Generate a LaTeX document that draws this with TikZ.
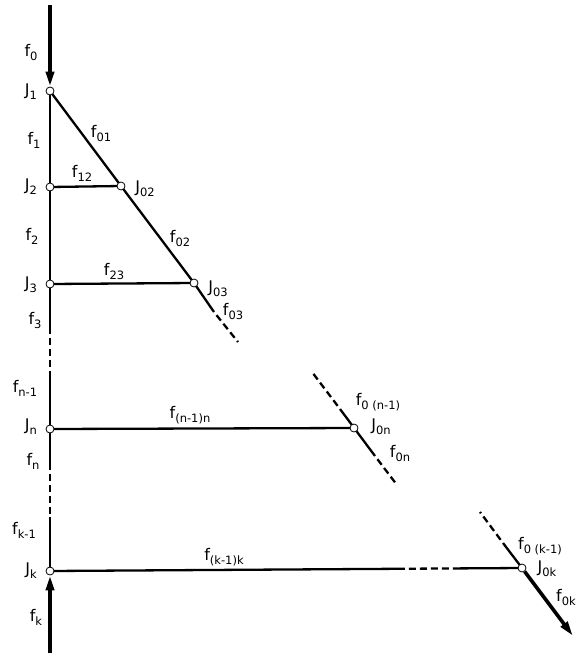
\documentclass[tikz,border=0pt]{standalone}
\usepackage{fontspec}
\setmainfont{DejaVu Sans}
\usetikzlibrary{arrows.meta,calc}
\pgfdeclarelayer{bg}
\pgfsetlayers{bg,main}
\newcommand{\lbl}[2]{#1\raisebox{-4pt}{\fontsize{11.5}{11.5}\selectfont #2}}
\begin{document}
\begin{tikzpicture}[x=1pt,y=-1pt,
  edge/.style={line width=2.3pt},
  dashedge/.style={line width=2.3pt,dash pattern=on 7pt off 4pt,dash phase=7pt},
  junction/.style={circle,draw,fill=white,line width=0.8pt,inner sep=0pt,minimum size=8pt},
  lab/.style={inner sep=0pt,font=\fontsize{16}{16}\selectfont},
  flow/.style={line width=3.6pt,-{Triangle[length=15pt,width=8pt]}}]
\useasboundingbox (0,0) rectangle (579,653);
% junctions
\node[junction] (J1) at (50,91) {};
\node[junction] (J2) at (50,187) {};
\node[junction] (J3) at (50,284) {};
\node[junction] (Jn) at (50,429) {};
\node[junction] (Jk) at (50,571) {};
\node[junction] (J02) at (121,186) {};
\node[junction] (J03) at (194,283) {};
\node[junction] (Jon) at (354,428) {};
\node[junction] (Jok) at (522,568) {};
% free ends and dash breaks
\coordinate (top) at (50,5);
\coordinate (bot) at (50,653);
\coordinate (v1) at (50,334);
\coordinate (v2) at (50,378);
\coordinate (v3) at (50,470);
\coordinate (v4) at (50,517);
\coordinate (d1) at (214,312);
\coordinate (d2) at (238,342);
\coordinate (n1) at (312,372);
\coordinate (n2) at (340,409);
\coordinate (n3) at (375,456);
\coordinate (n4) at (397,485);
\coordinate (k1) at (480,512);
\coordinate (k2) at (503,543);
\coordinate (kend) at (573,636);
\coordinate (h1) at ($(Jk)!0.752!(Jok)$);
\coordinate (h2) at ($(Jk)!0.858!(Jok)$);
\begin{pgfonlayer}{bg}
% main vertical
\draw[edge] (J1.center) -- (J2.center) -- (J3.center) -- (v1);
\draw[dashedge] (v1) -- (v2);
\draw[edge] (v2) -- (Jn.center) -- (v3);
\draw[dashedge] (v3) -- (v4);
\draw[edge] (v4) -- (Jk.center);
% diagonal
\draw[edge] (J1.center) -- (J02.center) -- (J03.center) -- (d1);
\draw[dashedge] (d1) -- (d2);
% horizontals
\draw[edge] (J2.center) -- (J02.center);
\draw[edge] (J3.center) -- (J03.center);
\draw[edge] (Jn.center) -- (Jon.center);
\draw[edge] (Jk.center) -- (h1);
\draw[dashedge] (h1) -- (h2);
\draw[edge] (h2) -- (Jok.center);
% diagonal near Jon
\draw[dashedge] (n2) -- (n1);
\draw[edge] (n2) -- (n3);
\draw[dashedge] (n3) -- (n4);
% diagonal near Jok
\draw[dashedge] (k2) -- (k1);
\draw[edge] (k2) -- (Jok.center);
\end{pgfonlayer}
% flows
\draw[flow] (top) -- (J1.north);
\draw[flow] (bot) -- (Jk.south);
\draw[flow] (Jok) -- (kend);
% labels
\node[lab] (l0) at (31,53) {\lbl{f}{0}};
\node[lab] (lJ1) at (31,92) {\lbl{J}{1}};
\node[lab] (l01) at (101,134) {\lbl{f}{01}};
\node[lab] (l1) at (34,140) {\lbl{f}{1}};
\node[lab] (lJ2) at (31,187) {\lbl{J}{2}};
\node[lab] (l12) at (82,173) {\lbl{f}{12}};
\node[lab] (lJ02) at (145,189) {\lbl{J}{02}};
\node[lab] (l2) at (32,236) {\lbl{f}{2}};
\node[lab] (l02) at (180,238) {\lbl{f}{02}};
\node[lab] (lJ3) at (31,285) {\lbl{J}{3}};
\node[lab] (l23) at (114,271) {\lbl{f}{23}};
\node[lab] (lJ03) at (218,289) {\lbl{J}{03}};
\node[lab] (l03) at (233,311) {\lbl{f}{03}};
\node[lab] (l3) at (35,320) {\lbl{f}{3}};
\node[lab] (lnm) at (25,388) {\lbl{f}{n-1}};
\node[lab] (lJn) at (31,427) {\lbl{J}{n}};
\node[lab] (lnmn) at (190,415) {\lbl{f}{(n-1)n}};
\node[lab] (ln) at (33,461) {\lbl{f}{n}};
\node[lab] (lkm) at (24,530) {\lbl{f}{k-1}};
\node[lab] (lJk) at (31,571) {\lbl{J}{k}};
\node[lab] (lkmk) at (224,557) {\lbl{f}{(k-1)k}};
\node[lab] (l0nm) at (378,402) {\lbl{f}{0 (n-1)}};
\node[lab] (lJon) at (381,427) {\lbl{J}{0n}};
\node[lab] (l0n) at (400,453) {\lbl{f}{0n}};
\node[lab] (l0km) at (540,546) {\lbl{f}{0 (k-1)}};
\node[lab] (lJok) at (547,569) {\lbl{J}{0k}};
\node[lab] (l0k) at (566,597) {\lbl{f}{0k}};
\node[lab] (lk) at (36,617) {\lbl{f}{k}};
\end{tikzpicture}
\end{document}
